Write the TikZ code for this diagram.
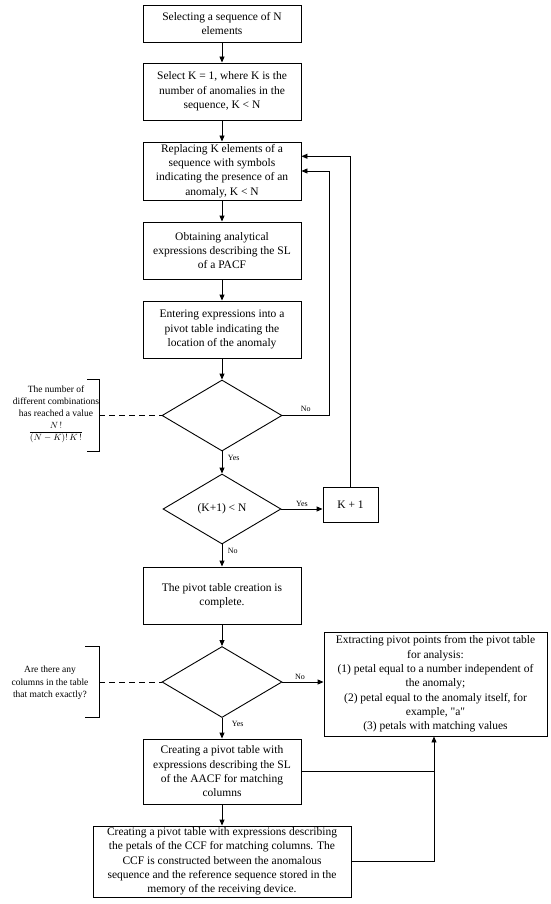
\documentclass[tikz,border=0pt]{standalone}
\usepackage{fontspec}
\setmainfont{Liberation Serif}[Ligatures=TeXOff]
\usetikzlibrary{shapes.geometric,arrows.meta,calc}
\begin{document}
\begin{tikzpicture}[x=1pt,y=-1pt,
  every node/.style={font=\fontsize{11.5}{14.3}\selectfont},
  box/.style={draw,line width=0.9pt,align=center,inner sep=0pt,minimum width=158pt},
  dia/.style={draw,diamond,line width=0.9pt,inner sep=0pt,minimum width=120pt,minimum height=71pt},
  lbl/.style={font=\fontsize{8}{9}\selectfont,inner sep=1.5pt},
  note/.style={align=center,font=\fontsize{9.5}{12.3}\selectfont},
  arr/.style={line width=0.9pt,-{Triangle[length=6pt,width=5pt]}},
  ln/.style={line width=0.9pt},
  dsh/.style={line width=0.9pt,dash pattern=on 6pt off 4pt}]
\useasboundingbox (0,0) rectangle (550,904);

\node[box,minimum height=37pt] (b1) at (222,23.5) {Selecting a sequence of N\\elements};
\node[box,minimum height=57pt] (b2) at (222,91.5) {Select K = 1, where K is the\\number of anomalies in the\\sequence, K < N};
\node[box,minimum height=58pt] (b3) at (222,171) {Replacing K elements of a\\sequence with symbols\\indicating the presence of an\\anomaly, K < N};
\node[box,minimum height=57pt] (b4) at (222,250.5) {Obtaining analytical\\expressions describing the SL\\of a PACF};
\node[box,minimum height=57pt] (b5) at (222,329.5) {Entering expressions into a\\pivot table indicating the\\location of the anomaly};
\node[dia] (d1) at (222,415.5) {};
\node[dia,minimum width=118pt,minimum height=70pt] (d2) at (222,509) {(K+1) < N};
\node[box,minimum width=55pt,minimum height=35pt] (kp) at (350.5,504.5) {K + 1};
\node[box,minimum height=57pt] (b6) at (222,595.5) {The pivot table creation is\\complete.};
\node[dia] (d3) at (222,682) {};
\node[box,minimum width=223pt,minimum height=104pt] (ext) at (435.5,684) {Extracting pivot points from the pivot table\\for analysis:\\(1) petal equal to a number independent of\\the anomaly;\\(2) petal equal to the anomaly itself, for\\example, "a"\\(3) petals with matching values};
\node[box,minimum height=65pt] (b7) at (222,771.5) {Creating a pivot table with\\expressions describing the SL\\of the AACF for matching\\columns};
\node[box,minimum width=258pt,minimum height=71pt] (b8) at (222,861.5) {Creating a pivot table with expressions describing\\the petals of the CCF for matching columns. The\\CCF is constructed between the anomalous\\sequence and the reference sequence stored in the\\memory of the receiving device.};

% side notes
\node[note] (n1) at (56,414) {The number of\\different combinations\\has reached a value\\[5pt]$\displaystyle\frac{N\,!}{(N-K)!\,K\,!}$};
\draw[ln] (87,379) -- (99,379) -- (99,451) -- (87,451);
\coordinate (br1) at (99,415.5);
\draw[dsh] (br1) -- (d1.west);

\node[note] (n2) at (50,683) {Are there any\\columns in the table\\that match exactly?};
\draw[ln] (85,646) -- (99,646) -- (99,717) -- (85,717);
\coordinate (br2) at (99,682);
\draw[dsh] (br2) -- (d3.west);

% main flow
\draw[arr] (b1) -- (b2);
\draw[arr] (b2) -- (b3);
\draw[arr] (b3) -- (b4);
\draw[arr] (b4) -- (b5);
\draw[arr] (b5) -- (d1.north);
\draw[arr] (d1.south) -- (d2.north) node[lbl,pos=0.3,right,xshift=4pt] {Yes};
\draw[arr] (d2.south) -- (b6) node[lbl,pos=0.3,right,xshift=4pt] {No};
\draw[arr] (b6) -- (d3.north);
\draw[arr] (d3.south) -- (b7) node[lbl,pos=0.3,right,xshift=8pt] {Yes};
\draw[arr] (b7) -- (b8);

% loops
\coordinate (c1) at (329,0);
\draw[arr] (d1.east) -- (d1.east -| c1) node[lbl,midway,above,yshift=2pt] {No} |- (b3.east);
\draw[arr] (d2.east) -- (d2.east -| kp.west) node[lbl,midway,above] {Yes};
\draw[arr] (kp.north) |- ($(b3.north east)!0.5!(b3.east)$);

\draw[arr] (d3.east) -- (d3.east -| ext.west) node[lbl,midway,above,xshift=-3pt] {No};
\coordinate (c2) at (434,0);
\draw[ln] (b7.east) -- (b7.east -| c2);
\draw[arr] (b8.east) -| (c2 |- ext.south);
\end{tikzpicture}
\end{document}
